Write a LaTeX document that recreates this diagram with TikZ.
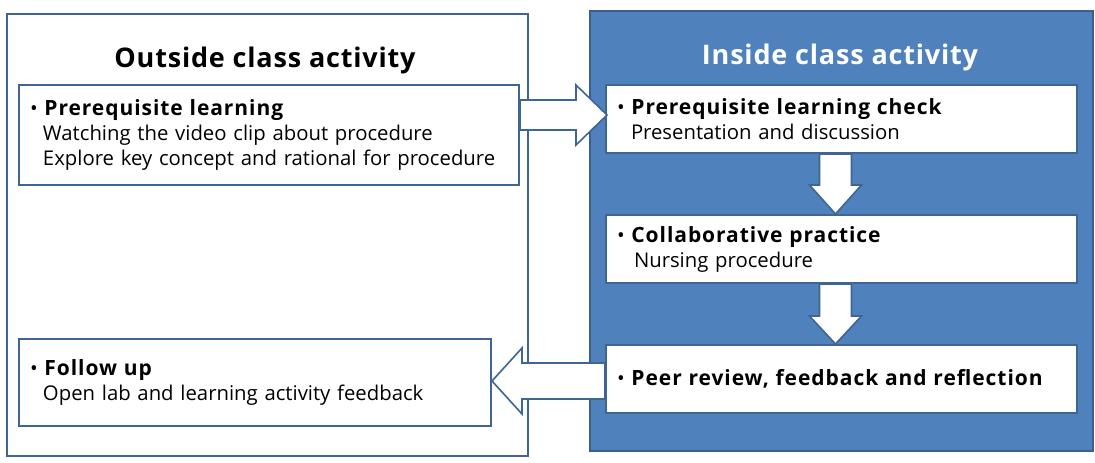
\documentclass[tikz,border=0pt]{standalone}
\usepackage{fontspec}
\setmainfont{Open Sans}
\usetikzlibrary{calc}
\definecolor{edgeblue}{HTML}{3F6592}
\definecolor{fillblue}{HTML}{4F81BD}
\definecolor{darkblue}{HTML}{3A5F8E}
\tikzset{
  panel/.style={draw=edgeblue, line width=2pt, fill=white, anchor=north west, inner sep=0pt},
  bluepanel/.style={draw=darkblue, line width=2pt, fill=fillblue, anchor=north west, inner sep=0pt},
  stepbox/.style={draw=edgeblue, line width=2pt, fill=white, anchor=north west, inner xsep=11pt, inner ysep=0pt, align=left, font=\fontsize{20.3}{25}\selectfont},
  paneltitle/.style={font=\fontsize{27}{32}\selectfont\bfseries\addfontfeatures{LetterSpace=3}},
  barrow/.style={draw=edgeblue, fill=white, line width=1.6pt, line join=miter},
}
\newcommand{\hd}[1]{{\fontsize{21}{25}\selectfont\bfseries\addfontfeatures{LetterSpace=4.5}#1}}
\begin{document}
\begin{tikzpicture}[x=1pt,y=-1pt]
\useasboundingbox (0,0) rectangle (1095,463);
% panels
\node[panel, minimum width=521pt, minimum height=442pt] (outer) at (6,13) {};
\node[bluepanel, minimum width=503pt, minimum height=440pt] (inner) at (589,10) {};
\node[paneltitle] (tout) at (265,60) {Outside class activity};
\node[paneltitle, text=white] (tin) at (840,57) {Inside class activity};
% step boxes
\node[stepbox, text width=478pt, minimum height=100pt] (A) at (18,84)
  {• \hd{Prerequisite learning}\\\hspace*{13pt}Watching the video clip about procedure\\\hspace*{13pt}Explore key concept and rational for procedure};
\node[stepbox, text width=449pt, minimum height=68pt] (B) at (605,84)
  {• \hd{Prerequisite learning check}\\\hspace*{14pt}Presentation and discussion};
\node[stepbox, text width=449pt, minimum height=68pt] (C) at (605,214)
  {• \hd{Collaborative practice}\\\hspace*{17pt}Nursing procedure};
\node[stepbox, text width=449pt, minimum height=68pt] (D) at (605,344)
  {• \hd{Peer review, feedback and reflection}};
\node[stepbox, text width=450pt, minimum height=87pt] (E) at (18,338)
  {• \hd{Follow up}\\\hspace*{13pt}Open lab and learning activity feedback};
% block arrows
\draw[barrow] let \p1=(A.east), \p2=(B.west) in
  (\x1,\y2+19pt) -- (\x2-29pt,\y2+19pt) -- (\x2-29pt,\y2+34pt) -- (\x2+2pt,\y2+4pt)
  -- (\x2-29pt,\y2-26pt) -- (\x2-29pt,\y2-11pt) -- (\x1,\y2-11pt) -- cycle;
\draw[barrow] let \p1=(B.south), \p2=(C.north) in
  (\x1-22pt,\y1) -- (\x1-22pt,\y2+29pt) -- (\x1-32pt,\y2+29pt) -- (\x1-6pt,\y2)
  -- (\x1+20pt,\y2+29pt) -- (\x1+10pt,\y2+29pt) -- (\x1+10pt,\y1) -- cycle;
\draw[barrow] let \p1=(C.south), \p2=(D.north) in
  (\x1-22pt,\y1) -- (\x1-22pt,\y2+28pt) -- (\x1-32pt,\y2+28pt) -- (\x1-6pt,\y2)
  -- (\x1+20pt,\y2+28pt) -- (\x1+10pt,\y2+28pt) -- (\x1+10pt,\y1) -- cycle;
\draw[barrow] let \p1=(D.west), \p2=(E.east) in
  (\x1,\y1+16pt) -- (\x2+30pt,\y1+16pt) -- (\x2+30pt,\y1+31pt) -- (\x2,\y1-2pt)
  -- (\x2+30pt,\y1-35pt) -- (\x2+30pt,\y1-20pt) -- (\x1,\y1-20pt) -- cycle;
\end{tikzpicture}
\end{document}
